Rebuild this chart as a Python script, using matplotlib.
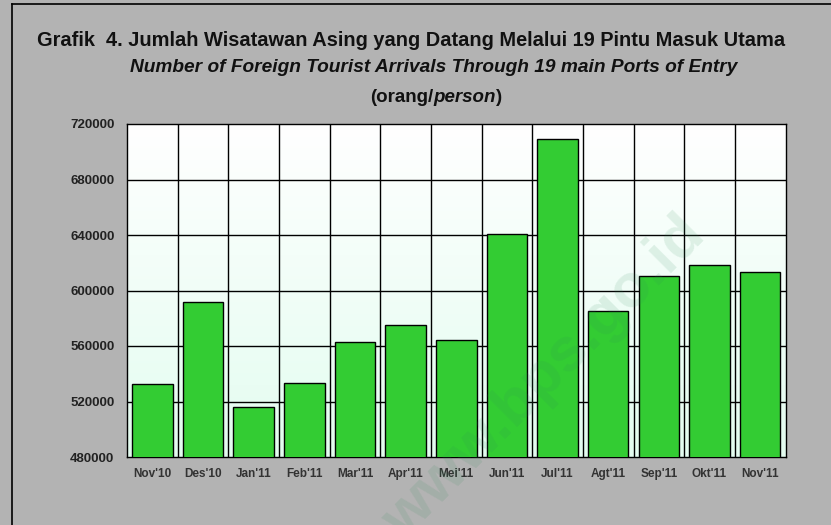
import matplotlib.pyplot as plt
import numpy as np
from matplotlib.lines import Line2D

months = ["Nov'10", "Des'10", "Jan'11", "Feb'11", "Mar'11", "Apr'11", "Mei'11",
          "Jun'11", "Jul'11", "Agt'11", "Sep'11", "Okt'11", "Nov'11"]
arrivals = [532400, 591900, 515800, 533100, 562600, 575400, 564300,
            640900, 709400, 585500, 610500, 618600, 613600]
yticks = [480000, 520000, 560000, 600000, 640000, 680000, 720000]

plt.rcParams['font.family'] = ['Liberation Sans', 'DejaVu Sans']

W, H = 831, 525
fig = plt.figure(figsize=(W / 100, H / 100), dpi=100)
fig.patch.set_facecolor('#B3B3B3')

# outer frame (only left and top visible)
fig.add_artist(Line2D([12 / W, 12 / W], [0, 1 - 4 / H], color='black', lw=1.2))
fig.add_artist(Line2D([12 / W, 1], [1 - 4 / H, 1 - 4 / H], color='black', lw=1.2))

ax = fig.add_axes([127 / W, 1 - 457 / H, (785.5 - 127) / W, (457 - 124) / H])
x = np.arange(len(months))

# gradient background
grad = np.linspace(0, 1, 256).reshape(-1, 1)
top = np.array([1.0, 1.0, 1.0])
bot = np.array([0.89, 0.99, 0.94])
img = top + (bot - top) * grad[:, :, None] * np.ones((1, 1, 3))
ax.imshow(img, extent=(-0.5, len(months) - 0.5, 480000, 720000),
          aspect='auto', origin='upper', zorder=0)

ax.bar(x, arrivals, width=0.8, color='#33CC33', edgecolor='black', lw=1.0, zorder=3)

ax.set_xlim(-0.5, len(months) - 0.5)
ax.set_ylim(480000, 720000)
ax.set_yticks(yticks)
ax.set_yticklabels([str(v) for v in yticks], fontsize=9.5, fontweight='bold', color='#222222')
ax.set_xticks(x)
ax.set_xticklabels(months, fontsize=8.5, fontweight='bold', color='#333333')
ax.tick_params(axis='x', length=0, pad=8)
ax.tick_params(axis='y', length=0, pad=9)

for v in yticks[1:-1]:
    ax.axhline(v, color='black', lw=1.0, zorder=1)
for b in np.arange(0.5, len(months) - 1, 1):
    ax.axvline(b, color='black', lw=1.0, zorder=1)
for s in ax.spines.values():
    s.set_color('black')
    s.set_linewidth(1.0)

# watermark
fig.text(545 / W, 1 - 378 / H, 'www.bps.go.id', rotation=45, fontsize=44,
         fontweight='bold', color='#2E8B57', alpha=0.12, ha='center', va='center',
         rotation_mode='anchor', zorder=10)

# titles
fig.text(411 / W, 1 - 40 / H, 'Grafik  4. Jumlah Wisatawan Asing yang Datang Melalui 19 Pintu Masuk Utama',
         ha='center', va='center', fontsize=14.4, fontweight='bold', color='#111111')
fig.text(434 / W, 1 - 68 / H, 'Number of Foreign Tourist Arrivals Through 19 main Ports of Entry',
         ha='center', va='center', fontsize=13.8, fontweight='bold', style='italic', color='#111111')

# third line with mixed styles
fig.canvas.draw()
r = fig.canvas.get_renderer()
parts = [('(orang/', 'normal'), ('person', 'italic'), (')', 'normal')]
texts = []
for s, st in parts:
    t = fig.text(0, 1 - 98 / H, s, ha='left', va='center', fontsize=13.5,
                 fontweight='bold', style=st, color='#111111')
    texts.append(t)
widths = [t.get_window_extent(r).width for t in texts]
xpos = 436 - sum(widths) / 2
for t, w in zip(texts, widths):
    t.set_x(xpos / W)
    xpos += w

fig.savefig('out.png', dpi=100, facecolor=fig.get_facecolor())
